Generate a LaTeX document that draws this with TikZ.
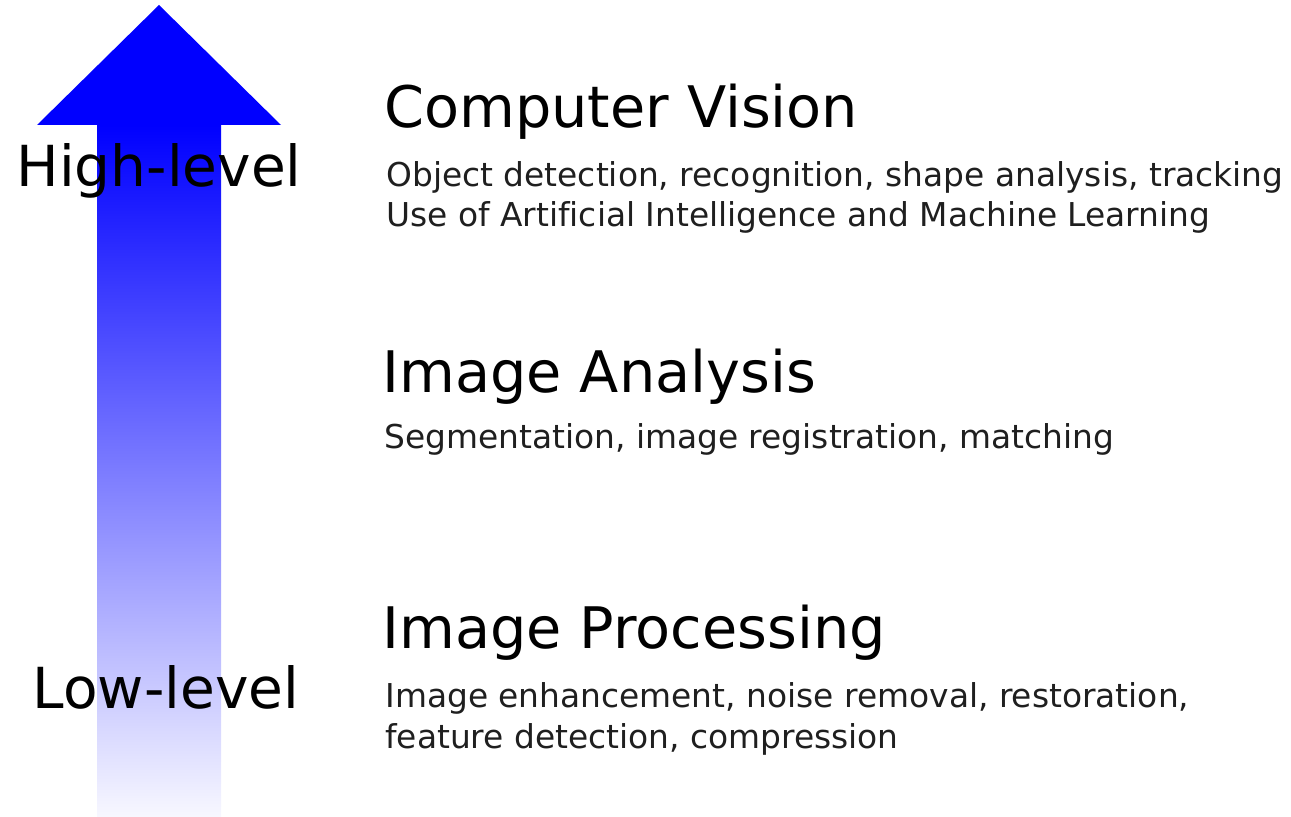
\documentclass[tikz,border=0pt]{standalone}
\usepackage{fontspec}
\setmainfont[Ligatures=NoCommon]{DejaVu Sans}
\usetikzlibrary{positioning}

\begin{document}
\begin{tikzpicture}[x=0.02cm, y=-0.02cm,
	ttl/.style={anchor=base west, inner sep=0pt, font=\fontsize{32.6}{38}\selectfont},
	dsc/.style={anchor=base west, inner sep=0pt, text=black!88, font=\fontsize{18.7}{22}\selectfont},
	lvl/.style={anchor=base, inner sep=0pt, font=\fontsize{32.2}{38}\selectfont}]
	\useasboundingbox (0,0) rectangle (1291,817);
	% pfeil
	\shade[top color=blue, bottom color=blue!3] (97,125) rectangle (221,817);
	\fill[blue] (37,125) -- (159,5) -- (281,125) -- cycle;
	\node[lvl] (high) at (159,187) {High-level};
	\node[lvl] (low) at (166,708) {Low-level};
	% ebenen
	\node[ttl] (cv) at (384,128) {Computer Vision};
	\node[dsc] (cv1) at (386,187) {Object detection, recognition, shape analysis, tracking};
	\node[dsc] (cv2) at (386,227) {Use of Artificial Intelligence and Machine Learning};
	\node[ttl] (ia) at (382,393) {Image Analysis};
	\node[dsc] (ia1) at (384,448) {Segmentation, image registration, matching};
	\node[ttl] (ip) at (382,648) {Image Processing};
	\node[dsc] (ip1) at (385,707) {Image enhancement, noise removal, restoration,};
	\node[dsc] (ip2) at (385,748) {feature detection, compression};
\end{tikzpicture}
\end{document}
